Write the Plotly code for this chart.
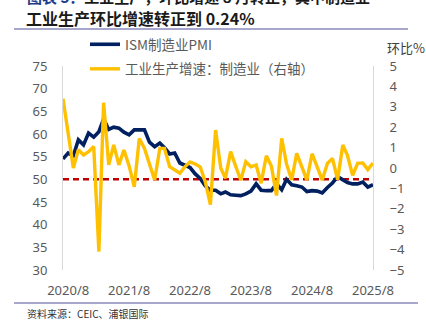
import pandas as pd
import plotly.graph_objects as go

# Monthly observations, 2020/7 - 2025/8
months = pd.date_range("2020-07-01", "2025-08-01", freq="MS")

ism_pmi = [
    54.5, 55.8, 55.2, 58.7, 57.6, 60.2, 59.3, 60.5, 63.3, 61.0,
    61.5, 61.3, 60.4, 59.8, 60.9, 60.9, 60.9, 58.2, 57.2, 58.0,
    57.0, 55.6, 55.8, 53.6, 53.0, 52.6, 51.2, 50.2, 48.5, 47.6,
    47.6, 46.8, 47.2, 46.6, 46.5, 46.4, 46.8, 47.4, 49.0, 47.6,
    47.5, 47.5, 49.0, 47.7, 50.0, 48.8, 48.6, 48.3, 47.3, 47.5,
    47.4, 47.0, 48.2, 49.2, 50.6, 50.0, 49.3, 49.0, 49.0, 49.4,
    48.3, 48.8,
]

mfg_output_mom = [
    3.4, 1.6, 0.0, 0.9, 0.64, 0.8, 1.05, -4.1, 3.2, 0.15,
    1.13, 0.15, 0.88, 0.1, -0.92, 1.45, 0.96, 0.2, -0.59, 0.96,
    0.96, 0.06, -0.1, -0.26, 0.06, 0.3, 0.2, 0.06, -0.7, -1.8,
    1.86, 0.0, -0.5, 0.8, 0.1, -0.6, 0.31, 0.06, 0.15, -0.75,
    0.6, 0.1, -1.35, 1.45, 0.2, -0.59, 0.72, 0.1, -0.59, 0.7,
    0.07, -0.59, 0.23, 0.47, -0.57, 1.13, 0.62, -0.36, 0.23, 0.25,
    -0.08, 0.24,
]

threshold = 50

tick_dates = ["2020-08-01", "2021-08-01", "2022-08-01",
              "2023-08-01", "2024-08-01", "2025-08-01"]
tick_labels = ["2020/8", "2021/8", "2022/8", "2023/8", "2024/8", "2025/8"]

left_ticks = [30, 35, 40, 45, 50, 55, 60, 65, 70, 75]
right_ticks = [-5, -4, -3, -2, -1, 0, 1, 2, 3, 4, 5]

W, H = 426, 327
ML, MR, MT, MB = 63, 53, 66, 57
PW, PH = W - ML - MR, H - MT - MB


def px_x(px):
    return (px - ML) / PW


def px_y(py):
    return (H - MB - py) / PH


TICK_FONT = dict(family="Noto Sans, Noto Sans CJK SC", size=13, color="#595959")
CJK = "Noto Sans CJK SC"

fig = go.Figure()

fig.add_trace(go.Scatter(
    x=months, y=ism_pmi, mode="lines", name="ISM制造业PMI",
    line=dict(color="#002060", width=3.6), legendgroup="a",
))
fig.add_trace(go.Scatter(
    x=months, y=mfg_output_mom, mode="lines", name="工业生产增速：制造业（右轴）",
    line=dict(color="#FFC000", width=3.4), yaxis="y2", legendgroup="b",
))

# 50 boom/bust reference line
fig.add_shape(type="line", xref="paper", x0=0, x1=1, yref="y", y0=threshold, y1=threshold,
              line=dict(color="#C00000", width=2.5, dash="6px,4px"), layer="below")

# Header / footer rules
fig.add_shape(type="line", xref="paper", yref="paper",
              x0=px_x(14), x1=px_x(408), y0=px_y(29), y1=px_y(29),
              line=dict(color="#8a8abc", width=1.5))
fig.add_shape(type="line", xref="paper", yref="paper",
              x0=px_x(14), x1=px_x(418), y0=px_y(303), y1=px_y(303),
              line=dict(color="#8a8abc", width=1.5))

annotations = [
    dict(text="<b><span style='color:#1f3a8a'>图表 3：</span>工业生产，环比增速 8 月转正，其中制造业</b>",
         x=px_x(25), y=px_y(-4), xanchor="left", yanchor="middle",
         font=dict(family=CJK, size=15, color="#1a1a1a")),
    dict(text="<b>工业生产环比增速转正到 0.24%</b>",
         x=px_x(24), y=px_y(18), xanchor="left", yanchor="middle",
         font=dict(family=CJK, size=16, color="#1a1a1a")),
    dict(text="环比%", x=px_x(385), y=px_y(47), xanchor="left", yanchor="middle",
         font=dict(family=CJK, size=13, color="#404040")),
    dict(text="资料来源：CEIC、浦银国际", x=px_x(25), y=px_y(313),
         xanchor="left", yanchor="middle",
         font=dict(family=CJK, size=10, color="#333333")),
]
for a in annotations:
    a.update(xref="paper", yref="paper", showarrow=False)

fig.update_layout(
    width=W, height=H,
    margin=dict(l=ML, r=MR, t=MT, b=MB, pad=0),
    paper_bgcolor="white", plot_bgcolor="white",
    showlegend=True,
    legend=dict(x=px_x(85), y=px_y(29), xanchor="left", yanchor="top",
                bgcolor="rgba(0,0,0,0)", tracegroupgap=4,
                font=dict(family=CJK, size=13.5, color="#595959")),
    annotations=annotations,
    xaxis=dict(
        type="date", range=[months[0], months[-1]],
        tickvals=tick_dates, ticktext=tick_labels,
        showgrid=False, zeroline=False, showline=False,
        ticks="outside", ticklen=8, tickcolor="rgba(0,0,0,0)",
        tickfont=TICK_FONT,
    ),
    yaxis=dict(
        range=[30, 75], tickvals=left_ticks,
        showgrid=False, zeroline=False,
        showline=True, linecolor="#d9d9d9", linewidth=1,
        ticks="outside", ticklen=12, tickcolor="rgba(0,0,0,0)",
        tickfont=TICK_FONT,
    ),
    yaxis2=dict(
        range=[-5, 5], tickvals=right_ticks, overlaying="y", side="right",
        showgrid=False, zeroline=False,
        showline=True, linecolor="#d9d9d9", linewidth=1,
        ticks="outside", ticklen=13, tickcolor="rgba(0,0,0,0)",
        tickfont=TICK_FONT,
    ),
)

fig.write_html("out.html")
